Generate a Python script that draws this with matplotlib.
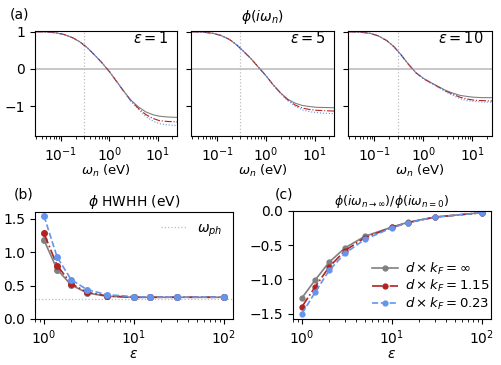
import matplotlib
matplotlib.use("Agg")
import matplotlib.pyplot as plt
import numpy as np

# ---------------- data ----------------
omega = [0.03, 0.05, 0.08, 0.12, 0.18, 0.25, 0.35, 0.5, 0.7, 1.0, 1.4, 2.0, 2.8, 4.0, 5.6, 8.0, 11.0, 16.0, 25.0]

eps_panels = [1, 5, 10]

# phi(i w_n) for each epsilon: gray (d kF = inf), red (1.15), blue (0.23)
phi_e1_gray = [1.0, 0.995, 0.97, 0.92, 0.83, 0.72, 0.57, 0.37, 0.17, -0.07, -0.33, -0.60, -0.84, -1.02, -1.15, -1.23, -1.27, -1.29, -1.30]
phi_e1_red  = [1.0, 0.995, 0.97, 0.92, 0.83, 0.72, 0.57, 0.37, 0.17, -0.07, -0.33, -0.61, -0.86, -1.06, -1.22, -1.33, -1.39, -1.41, -1.42]
phi_e1_blue = [1.0, 0.995, 0.97, 0.92, 0.83, 0.72, 0.57, 0.37, 0.17, -0.06, -0.32, -0.61, -0.87, -1.09, -1.27, -1.40, -1.47, -1.50, -1.52]

phi_e5_gray = [1.0, 0.99, 0.96, 0.90, 0.79, 0.65, 0.47, 0.27, 0.05, -0.18, -0.42, -0.64, -0.81, -0.92, -0.98, -1.01, -1.03, -1.035, -1.04]
phi_e5_red  = [1.0, 0.99, 0.96, 0.90, 0.79, 0.65, 0.47, 0.27, 0.05, -0.18, -0.42, -0.65, -0.83, -0.97, -1.05, -1.09, -1.11, -1.12, -1.13]
phi_e5_blue = [1.0, 0.99, 0.96, 0.90, 0.79, 0.65, 0.47, 0.27, 0.05, -0.18, -0.43, -0.66, -0.85, -1.00, -1.10, -1.15, -1.17, -1.19, -1.20]

phi_e10_gray = [1.0, 0.99, 0.96, 0.89, 0.76, 0.60, 0.38, 0.12, -0.10, -0.25, -0.36, -0.47, -0.57, -0.65, -0.71, -0.74, -0.76, -0.77, -0.77]
phi_e10_red  = [1.0, 0.99, 0.96, 0.89, 0.76, 0.60, 0.38, 0.12, -0.10, -0.26, -0.37, -0.48, -0.59, -0.68, -0.76, -0.81, -0.84, -0.85, -0.86]
phi_e10_blue = [1.0, 0.99, 0.96, 0.89, 0.76, 0.60, 0.38, 0.12, -0.10, -0.26, -0.38, -0.49, -0.61, -0.71, -0.80, -0.85, -0.87, -0.89, -0.89]

omega_ph = 0.3

eps = [1, 1.4, 2, 3, 5, 10, 15, 30, 100]
hwhh_gray = [1.18, 0.74, 0.51, 0.39, 0.34, 0.325, 0.325, 0.325, 0.325]
hwhh_red  = [1.28, 0.80, 0.53, 0.40, 0.345, 0.325, 0.325, 0.325, 0.325]
hwhh_blue = [1.54, 0.925, 0.59, 0.44, 0.364, 0.334, 0.327, 0.327, 0.327]

ratio_gray = [-1.27, -1.01, -0.75, -0.54, -0.37, -0.235, -0.166, -0.088, -0.024]
ratio_red  = [-1.40, -1.11, -0.82, -0.58, -0.39, -0.24, -0.17, -0.09, -0.025]
ratio_blue = [-1.50, -1.19, -0.87, -0.62, -0.415, -0.245, -0.17, -0.09, -0.025]

labels = [r"$d\times k_F=\infty$", r"$d\times k_F=1.15$", r"$d\times k_F=0.23$"]

# ---------------- styles ----------------
c_gray = "#808080"
c_red = "#b22222"
c_blue = "#6495ed"

plt.rcParams["font.family"] = ["DejaVu Sans"]
plt.rcParams["font.size"] = 10
plt.rcParams["mathtext.fontset"] = "dejavusans"

fig = plt.figure(figsize=(5.01, 3.65), dpi=100)

W, H = 501.0, 365.0
def ax_at(l, t, r, b):
    return fig.add_axes([l / W, 1 - b / H, (r - l) / W, (b - t) / H])

top_axes = [ax_at(35, 31, 177, 136), ax_at(191, 31, 334, 136), ax_at(348, 31, 492, 136)]
phi_sets = [(phi_e1_gray, phi_e1_red, phi_e1_blue),
            (phi_e5_gray, phi_e5_red, phi_e5_blue),
            (phi_e10_gray, phi_e10_red, phi_e10_blue)]

for i, (ax, e, (pg, pr, pb)) in enumerate(zip(top_axes, eps_panels, phi_sets)):
    ax.axhline(0, color="#bdbdbd", lw=1.2, zorder=1)
    ax.axvline(omega_ph, color="#bdbdbd", lw=0.9, ls=":", zorder=1)
    ax.plot(omega, pg, color=c_gray, lw=0.8, ls="-")
    ax.plot(omega, pr, color=c_red, lw=0.8, ls="-.")
    ax.plot(omega, pb, color=c_blue, lw=0.8, ls=":")
    ax.set_xscale("log")
    ax.set_xlim(0.029, 25)
    ax.set_ylim(-1.8, 1.02)
    ax.set_yticks([-1, 0, 1])
    if i > 0:
        ax.set_yticklabels([])
    ax.set_xlabel(r"$\omega_n$ (eV)", labelpad=-1, fontsize=9.5)
    ax.text(0.94, 0.93, r"$\varepsilon=%d$" % e, transform=ax.transAxes,
            ha="right", va="center", fontsize=10.5)

fig.text(top_axes[1].get_position().x0 + top_axes[1].get_position().width / 2, 1 - 17 / H,
         r"$\phi(i\omega_n)$", ha="center", va="center", fontsize=10)
fig.text(10 / W, 1 - 14 / H, "(a)", ha="left", va="center", fontsize=10)

# panel b
axb = ax_at(35, 212, 233, 319)
axb.axhline(omega_ph, color="#bdbdbd", lw=0.9, ls=":", label=r"$\omega_{ph}$")
axb.plot(eps, hwhh_gray, color=c_gray, ls="-", marker="o", ms=4, lw=1.2)
axb.plot(eps, hwhh_red, color=c_red, ls="-.", marker="o", ms=4, lw=1.2)
axb.plot(eps, hwhh_blue, color=c_blue, ls="--", marker="o", ms=4, lw=1.2)
axb.set_xscale("log")
axb.set_ylim(0, 1.6)
axb.set_yticks([0, 0.5, 1.0, 1.5])
axb.set_xlabel(r"$\varepsilon$", labelpad=0)
axb.set_title(r"$\phi$ HWHH (eV)", fontsize=10, pad=4)
axb.legend(loc="upper right", frameon=False, fontsize=10, handlelength=1.8,
           bbox_to_anchor=(1.01, 1.03))
fig.text(14 / W, 1 - 195 / H, "(b)", ha="left", va="center", fontsize=10)

# panel c
axc = ax_at(293, 211, 491, 319)
axc.plot(eps, ratio_gray, color=c_gray, ls="-", marker="o", ms=3.5, lw=1.2, label=labels[0])
axc.plot(eps, ratio_red, color=c_red, ls="-.", marker="o", ms=3.5, lw=1.2, label=labels[1])
axc.plot(eps, ratio_blue, color=c_blue, ls="--", marker="o", ms=3.5, lw=1.2, label=labels[2])
axc.set_xscale("log")
axc.set_ylim(-1.58, 0.0)
axc.set_yticks([-1.5, -1.0, -0.5, 0.0])
axc.set_xlabel(r"$\varepsilon$", labelpad=0)
axc.set_title(r"$\phi(i\omega_{n\rightarrow\infty})/\phi(i\omega_{n=0})$", fontsize=9, pad=4)
axc.legend(loc="lower right", frameon=False, fontsize=9.5, handlelength=2.0,
           labelspacing=0.12, handletextpad=0.5, borderaxespad=0.3,
           bbox_to_anchor=(1.04, -0.02))
fig.text(275 / W, 1 - 195 / H, "(c)", ha="left", va="center", fontsize=10)

fig.savefig("out.png", dpi=100)
